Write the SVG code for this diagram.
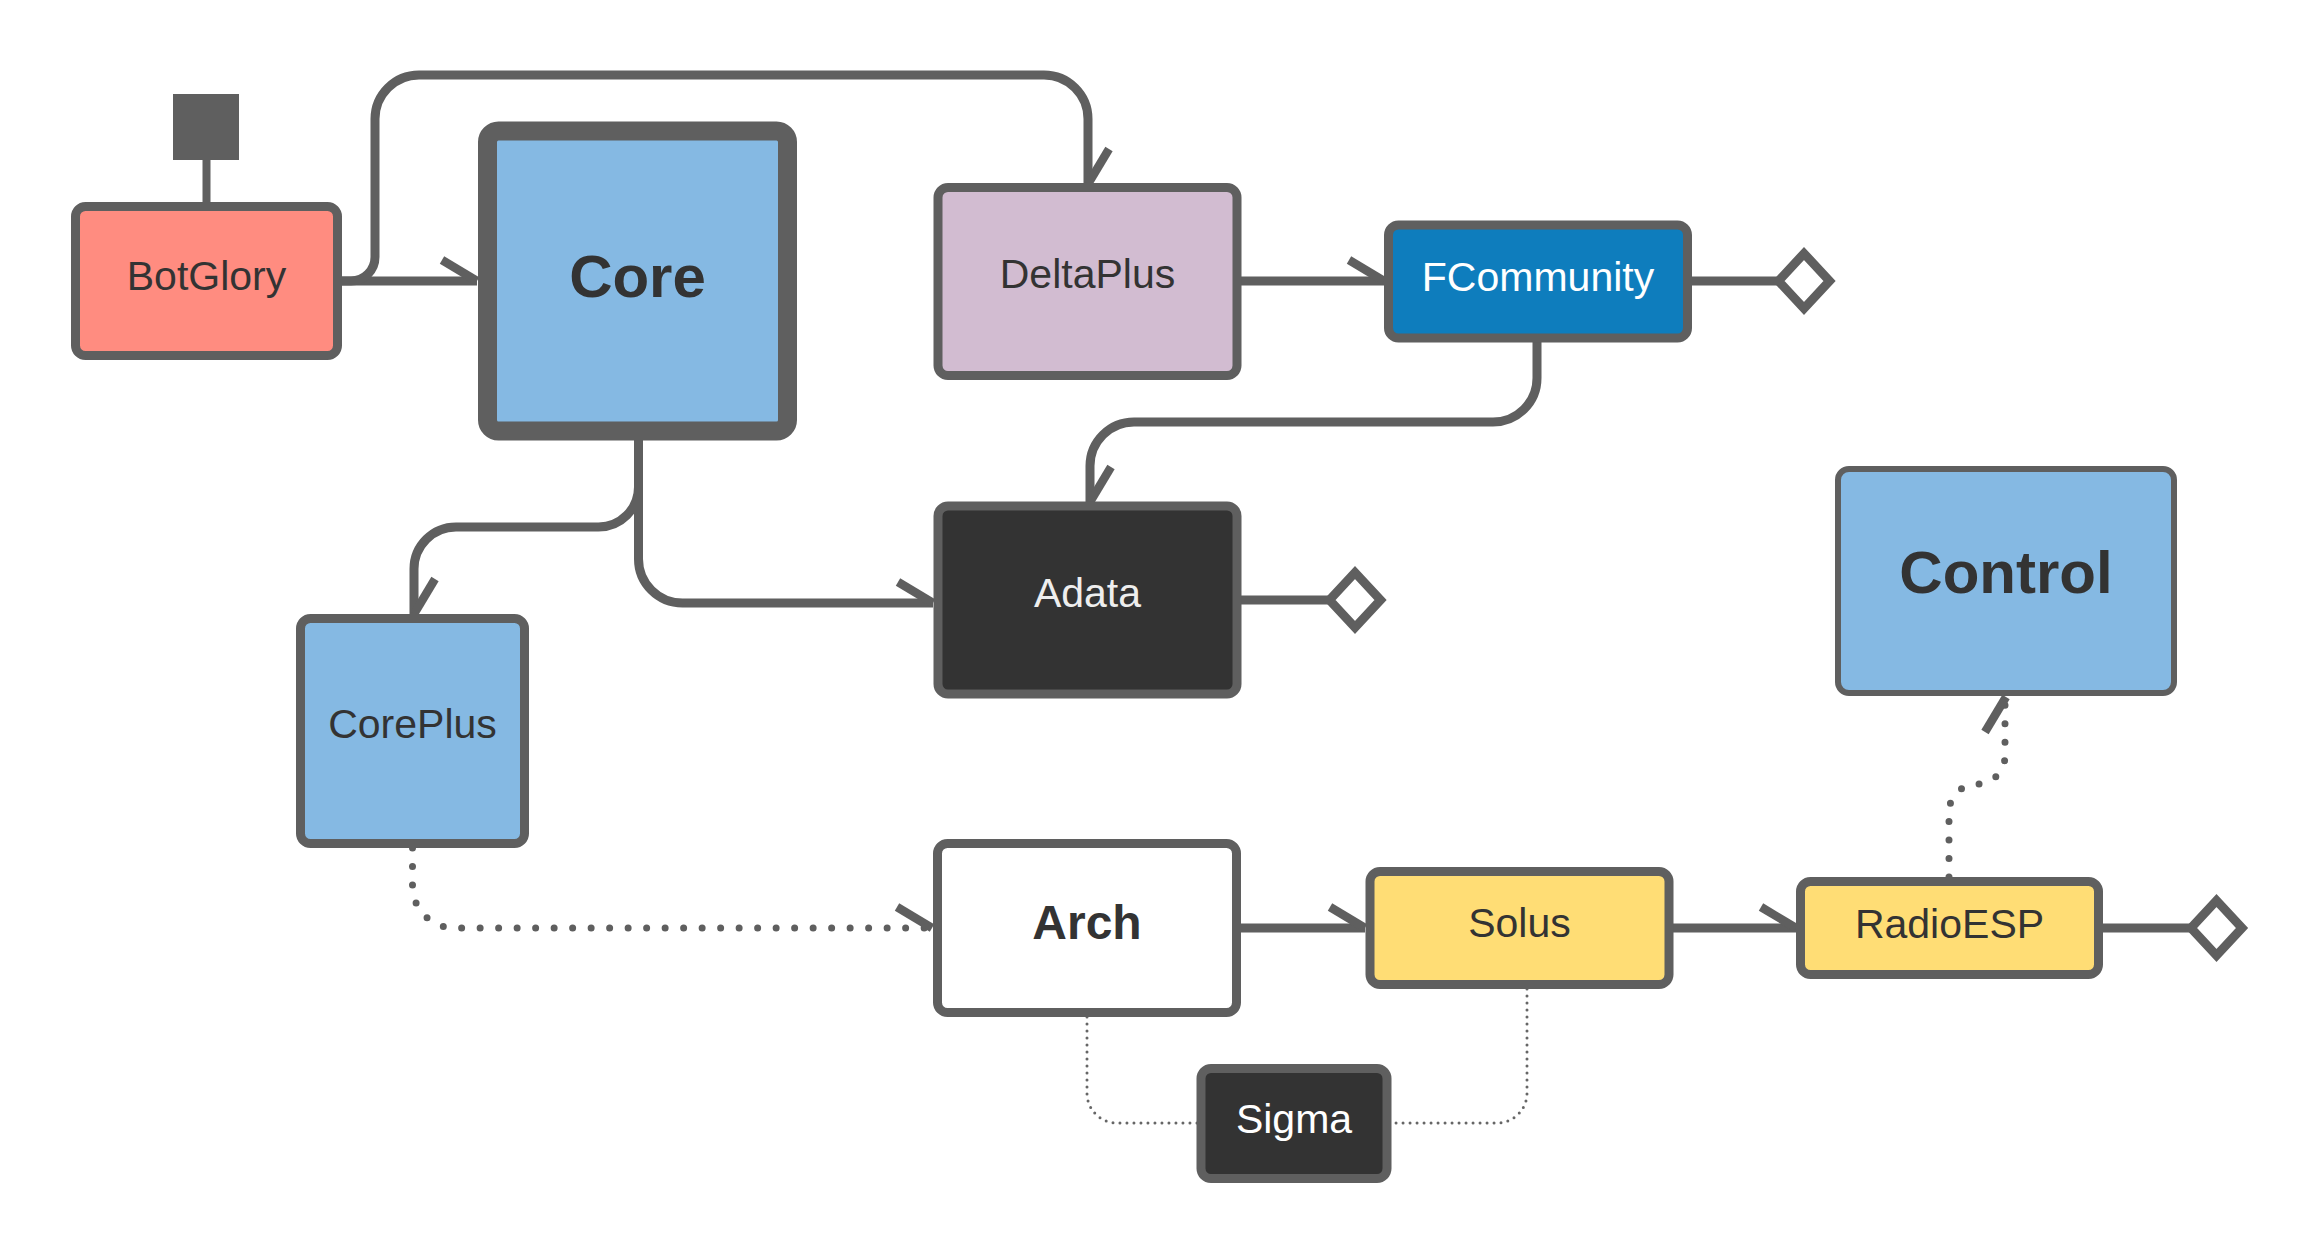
<svg xmlns="http://www.w3.org/2000/svg" width="2319" height="1254" viewBox="0 0 2319 1254">
<style>
.box{stroke:#5f5f5f;stroke-width:9}
.lbl{font-family:"Liberation Sans",Arial,sans-serif;font-size:41px;fill:#333333;text-anchor:middle}
.big{font-weight:bold;font-size:60px}
.wt{fill:#ffffff}
.ln{fill:none;stroke:#5f5f5f;stroke-width:9}
.dot{fill:none;stroke:#5f5f5f;stroke-width:7;stroke-dasharray:0 18.5;stroke-linecap:round}
.thin{fill:none;stroke:#666666;stroke-width:3;stroke-dasharray:0 7;stroke-linecap:round}
.dia{fill:#ffffff;stroke:#5f5f5f;stroke-width:9}
</style>
<defs>
<marker id="harp" markerUnits="userSpaceOnUse" markerWidth="80" markerHeight="80" viewBox="-60 -40 80 80" refX="0" refY="0" orient="auto" overflow="visible">
<path d="M -35 -21 L 0 0" fill="none" stroke="#5f5f5f" stroke-width="8.5" stroke-dasharray="none"/>
</marker>
</defs>
<rect width="2319" height="1254" fill="#ffffff"/>
<g id="connectors">
<line x1="206.5" y1="202" x2="206.5" y2="158" stroke="#5f5f5f" stroke-width="8"/>
<rect x="173" y="94" width="66" height="66" fill="#5f5f5f"/>
<path class="ln" d="M 342 281 H 477" marker-end="url(#harp)"/>
<path class="ln" d="M 342 281 H 351 A 24 24 0 0 0 375 257 V 119 A 44 44 0 0 1 419 75 H 1044 A 44 44 0 0 1 1088 119 V 184" marker-end="url(#harp)"/>
<path class="ln" d="M 1241 281 H 1384" marker-end="url(#harp)"/>
<path class="ln" d="M 1692 281 H 1779"/>
<path class="dia" d="M 1778.5 281 L 1804 253.5 L 1829.5 281 L 1804 308.5 Z"/>
<path class="ln" d="M 1537 342 V 378 A 44 44 0 0 1 1493 422 H 1134 A 44 44 0 0 0 1090 466 V 502" marker-end="url(#harp)"/>
<path class="ln" d="M 638.5 440 V 487 A 40 40 0 0 1 598.5 527 H 456 A 42 42 0 0 0 414 569 V 614" marker-end="url(#harp)"/>
<path class="ln" d="M 638.5 440 V 559 A 44 44 0 0 0 682.5 603 H 933" marker-end="url(#harp)"/>
<path class="ln" d="M 1241 600 H 1330"/>
<path class="dia" d="M 1329.5 600 L 1355 572.5 L 1380.5 600 L 1355 627.5 Z"/>
<path class="dot" d="M 412.5 848 V 886 A 42 42 0 0 0 454.5 928 H 931"/>
<path class="ln" d="M 924 928 H 932" style="stroke:none" marker-end="url(#harp)"/>
<path class="ln" d="M 1241 928 H 1365" marker-end="url(#harp)"/>
<path class="ln" d="M 1673 928 H 1796" marker-end="url(#harp)"/>
<path class="ln" d="M 2103 928 H 2191"/>
<path class="dia" d="M 2191 928 L 2216.5 900.5 L 2242 928 L 2216.5 955.5 Z"/>
<path class="dot" d="M 1949 877 V 812 A 28 28 0 0 1 1977 784 A 28 28 0 0 0 2005 756 V 700"/>
<path class="ln" d="M 2006 710 V 697" style="stroke:none" marker-end="url(#harp)"/>
<path class="thin" d="M 1087 1017 V 1093 A 30 30 0 0 0 1117 1123 H 1197"/>
<path class="thin" d="M 1527 989 V 1093 A 30 30 0 0 1 1497 1123 H 1391"/>
</g>
<g id="BotGlory"><rect class="box" x="75.5" y="206.5" width="262" height="149" rx="10" fill="#ff8c80"/><text class="lbl" x="206.5" y="290">BotGlory</text></g>
<g id="Core"><rect class="box" x="487.5" y="131" width="300" height="300" rx="11" fill="#85b9e3" style="stroke-width:19"/><text class="lbl big" x="637.5" y="297">Core</text></g>
<g id="DeltaPlus"><rect class="box" x="938" y="187.5" width="299" height="188" rx="10" fill="#d2bcd1"/><text class="lbl" x="1087.5" y="288">DeltaPlus</text></g>
<g id="FCommunity"><rect class="box" x="1388.5" y="225" width="299" height="113" rx="10" fill="#0e7dbd"/><text class="lbl wt" x="1538" y="291">FCommunity</text></g>
<g id="Adata"><rect class="box" x="938" y="506" width="299" height="188" rx="10" fill="#333333"/><text class="lbl" x="1087.5" y="607" style="fill:#eeeeee">Adata</text></g>
<g id="CorePlus"><rect class="box" x="300.5" y="618.5" width="224" height="225" rx="10" fill="#85b9e3"/><text class="lbl" x="412.5" y="738">CorePlus</text></g>
<g id="Control"><rect class="box" x="1838" y="469" width="336" height="224" rx="11" fill="#85b9e3" style="stroke-width:6"/><text class="lbl big" x="2006" y="593">Control</text></g>
<g id="Arch"><rect class="box" x="937.5" y="843.5" width="299" height="169" rx="10" fill="#ffffff"/><text class="lbl" x="1087" y="939" style="font-size:48px;font-weight:bold">Arch</text></g>
<g id="Solus"><rect class="box" x="1370" y="871.5" width="299" height="113" rx="10" fill="#ffdd75"/><text class="lbl" x="1519.5" y="937">Solus</text></g>
<g id="RadioESP"><rect class="box" x="1800.5" y="881.5" width="298" height="93" rx="10" fill="#ffdd75"/><text class="lbl" x="1949.5" y="937.5">RadioESP</text></g>
<g id="Sigma"><rect class="box" x="1201" y="1068.5" width="186" height="110" rx="10" fill="#333333"/><text class="lbl wt" x="1294" y="1133">Sigma</text></g>
</svg>
